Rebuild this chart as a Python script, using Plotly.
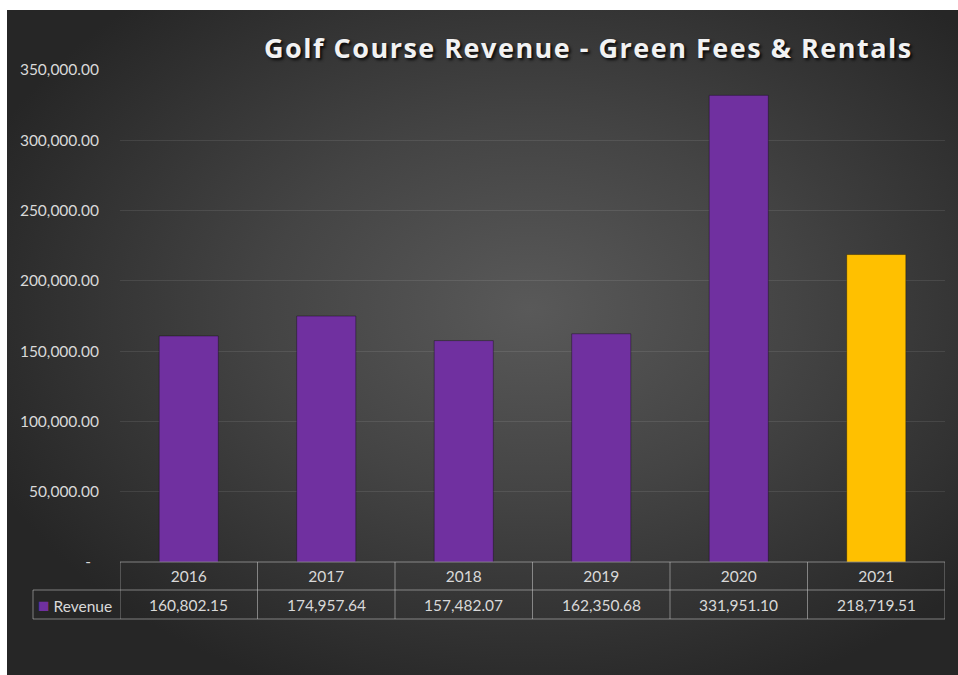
import base64
import plotly.graph_objects as go

# ---- data ----
years = ["2016", "2017", "2018", "2019", "2020", "2021"]
revenue = [160802.15, 174957.64, 157482.07, 162350.68, 331951.10, 218719.51]
series_name = "Revenue"
title_text = "Golf Course Revenue - Green Fees & Rentals"
y_tickvals = [0, 50000, 100000, 150000, 200000, 250000, 300000, 350000]
y_ticktext = ["-\u00a0\u00a0", "50,000.00", "100,000.00", "150,000.00", "200,000.00",
              "250,000.00", "300,000.00", "350,000.00"]

# ---- styles ----
PURPLE = "#7030A0"
GOLD = "#FFC000"
bar_colors = [PURPLE, PURPLE, PURPLE, PURPLE, PURPLE, GOLD]
TXT = "#d9d9d9"
LINE = "rgba(200,200,200,0.55)"
FONT = "Lato"

W, H = 958, 675
L, R, T, B = 120, 13, 70, 113
pw, ph = W - L - R, H - T - B

def px_x(p):  # pixel -> paper x
    return (p - L) / pw

def px_y(p):  # pixel -> paper y
    return (H - B - p) / ph

# radial gradient background as inline svg
bx0, by0, bx1, by1 = 7, 10, 958, 675
bw, bh = bx1 - bx0, by1 - by0
svg = f'''<svg xmlns="http://www.w3.org/2000/svg" width="{bw}" height="{bh}" viewBox="0 0 {bw} {bh}" preserveAspectRatio="none">
<defs><radialGradient id="g" cx="0.55" cy="0.45" r="0.62" fx="0.55" fy="0.45">
<stop offset="0" stop-color="#595959"/><stop offset="0.45" stop-color="#444444"/><stop offset="1" stop-color="#262626"/>
</radialGradient></defs><rect x="0" y="0" width="{bw}" height="{bh}" fill="url(#g)"/></svg>'''
src = "data:image/svg+xml;base64," + base64.b64encode(svg.encode()).decode()

n = len(years)
idx = list(range(n))

fig = go.Figure()
fig.add_trace(go.Bar(
    x=idx, y=revenue, name=series_name,
    marker=dict(color=bar_colors, line=dict(color="rgba(0,0,0,0.35)", width=1)),
    showlegend=False, hovertext=years, hoverinfo="text+y",
))

shapes = []
row1 = px_y(590)
row2 = px_y(619)
legend_left = px_x(33)
# horizontal lines
shapes.append(dict(type="line", xref="x", yref="paper", x0=-0.5, x1=n - 0.5, y0=0, y1=0,
                   line=dict(color=LINE, width=1)))
for yy in (row1, row2):
    shapes.append(dict(type="line", xref="paper", yref="paper", x0=legend_left, x1=1, y0=yy, y1=yy,
                       line=dict(color=LINE, width=1)))
# vertical lines
for k in range(n + 1):
    shapes.append(dict(type="line", xref="x", yref="paper", x0=k - 0.5, x1=k - 0.5, y0=0, y1=row2,
                       line=dict(color=LINE, width=1)))
shapes.append(dict(type="line", xref="paper", yref="paper", x0=legend_left, x1=legend_left, y0=row1, y1=row2,
                   line=dict(color=LINE, width=1)))

annotations = []
for i, v in zip(idx, revenue):
    annotations.append(dict(x=i, xref="x", y=(row1 + row2) / 2, yref="paper", text=f"{v:,.2f}",
                            showarrow=False, font=dict(family=FONT, size=15.5, color=TXT),
                            xanchor="center", yanchor="middle"))
annotations.append(dict(x=px_x(36), xref="paper", y=(row1 + row2) / 2, yref="paper",
                        text=f"<span style='color:{PURPLE};font-size:19px'>■</span>\u00a0{series_name}",
                        showarrow=False, font=dict(family=FONT, size=15.5, color=TXT),
                        xanchor="left", yanchor="middle"))
annotations.append(dict(x=px_x(588), xref="paper", y=px_y(47), yref="paper",
                        text=f"<span style='letter-spacing:1.5px'>{title_text}</span>",
                        showarrow=False, xanchor="center", yanchor="middle",
                        font=dict(family="Open Sans", size=27, color="#f2f2f2", weight="bold",
                                  shadow="2px 2px 3px rgba(0,0,0,0.85)")))

fig.update_layout(
    width=W, height=H,
    margin=dict(l=L, r=R, t=T, b=B, pad=0),
    paper_bgcolor="white",
    plot_bgcolor="rgba(0,0,0,0)",
    bargap=0.57,
    shapes=shapes,
    annotations=annotations,
    images=[dict(source=src, xref="paper", yref="paper", x=px_x(bx0), y=px_y(by0),
                 sizex=bw / pw, sizey=bh / ph, sizing="stretch", layer="below",
                 xanchor="left", yanchor="top")],
    xaxis=dict(type="linear", range=[-0.5, n - 0.5], tickvals=idx, ticktext=years,
               showgrid=False, showline=False, zeroline=False, ticklabelstandoff=3,
               ticks="", tickfont=dict(family=FONT, size=15.5, color=TXT)),
    yaxis=dict(range=[0, 350000], tickvals=y_tickvals, ticktext=y_ticktext,
               showgrid=True, gridcolor="rgba(255,255,255,0.09)", gridwidth=1,
               zeroline=False, showline=False, ticks="", ticklabelstandoff=20,
               tickfont=dict(family=FONT, size=15.5, color=TXT)),
)

fig.write_html("out.html")
